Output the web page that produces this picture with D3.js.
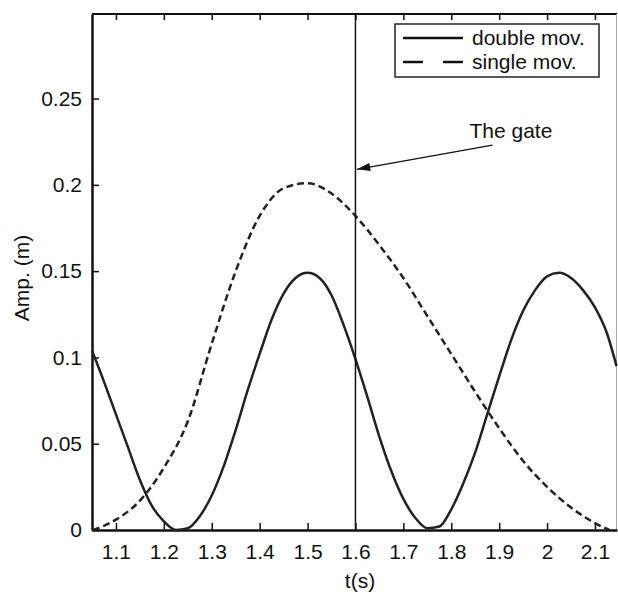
<!DOCTYPE html>
<html>
<head>
<meta charset="utf-8">
<script src="https://cdn.jsdelivr.net/npm/d3@7"></script>
<style>
  body { margin: 0; background: #fff; }
  text { font-family: "Liberation Sans", Arial, sans-serif; fill: #111; }
</style>
</head>
<body>
<div id="app"></div>
<script>
'use strict'

// Values
const doubleT = [1.050, 1.075, 1.100, 1.125, 1.150, 1.175, 1.200, 1.225, 1.250, 1.275,
                 1.300, 1.325, 1.350, 1.375, 1.400, 1.425, 1.450, 1.475, 1.500, 1.525,
                 1.550, 1.575, 1.600, 1.625, 1.650, 1.675, 1.700, 1.725, 1.750, 1.775,
                 1.800, 1.825, 1.850, 1.875, 1.900, 1.925, 1.950, 1.975, 2.000, 2.025,
                 2.050, 2.075, 2.100, 2.125, 2.145];
const doubleAmp = [0.104, 0.086, 0.067, 0.048, 0.029, 0.014, 0.005, 0.000, 0.001, 0.008,
                   0.020, 0.037, 0.058, 0.081, 0.102, 0.122, 0.137, 0.146, 0.149, 0.146,
                   0.136, 0.119, 0.099, 0.077, 0.054, 0.034, 0.018, 0.007, 0.001, 0.002,
                   0.012, 0.027, 0.045, 0.067, 0.089, 0.110, 0.127, 0.139, 0.147, 0.149,
                   0.146, 0.139, 0.129, 0.114, 0.095];

const singleT = [1.052, 1.100, 1.150, 1.200, 1.250, 1.300, 1.350, 1.400, 1.450, 1.500,
                 1.550, 1.600, 1.650, 1.700, 1.750, 1.800, 1.850, 1.900, 1.950, 2.000,
                 2.050, 2.100, 2.130];
const singleAmp = [0.000, 0.006, 0.017, 0.036, 0.063, 0.108, 0.150, 0.182, 0.198, 0.201,
                   0.195, 0.182, 0.165, 0.146, 0.124, 0.102, 0.080, 0.059, 0.040, 0.025,
                   0.013, 0.004, 0.000];

const xTicks = [1.1, 1.2, 1.3, 1.4, 1.5, 1.6, 1.7, 1.8, 1.9, 2.0, 2.1];
const yTicks = [0, 0.05, 0.1, 0.15, 0.2, 0.25];
const seriesNames = ['double mov.', 'single mov.'];

const gateT = 1.6;
const gateLabel = 'The gate';
const arrowFrom = [1.886, 0.223];
const arrowTo = [1.603, 0.209];

const width = 618;
const height = 592;
const margin = {left: 92, right: 1, top: 14, bottom: 62};
const fontSize = 21;

let x = d3.scaleLinear().domain([1.05, 2.146]).range([margin.left, width - margin.right]);
let y = d3.scaleLinear().domain([0, 0.299]).range([height - margin.bottom, margin.top]);

let svg = (
  d3.select('#app')
    .append('svg')
    .attr('width', width)
    .attr('height', height));

let defs = svg.append('defs');
(defs.append('marker')
    .attr('id', 'arrow')
    .attr('viewBox', '0 0 10 6')
    .attr('refX', 10)
    .attr('refY', 3)
    .attr('markerWidth', 14)
    .attr('markerHeight', 8)
    .attr('markerUnits', 'userSpaceOnUse')
    .attr('orient', 'auto')
  .append('path')
    .attr('d', 'M0,0 L10,3 L0,6 Z')
    .attr('fill', '#111'));

let x0 = x.range()[0], x1 = x.range()[1];
let y0 = y.range()[0], y1 = y.range()[1];

// Draw frame: top and right sides
(svg.append('line')
    .attr('x1', x0).attr('x2', x1)
    .attr('y1', y1).attr('y2', y1)
    .attr('stroke', '#111').attr('stroke-width', 2));
(svg.append('line')
    .attr('x1', x1 - 0.5).attr('x2', x1 - 0.5)
    .attr('y1', y1).attr('y2', y0)
    .attr('stroke', '#aaa').attr('stroke-width', 1));

// Draw axes with inward ticks
let xAxis = (svg.append('g')
    .attr('transform', `translate(0,${y0})`)
    .call(d3.axisBottom(x).tickValues(xTicks).tickSizeInner(-7).tickSizeOuter(0)
      .tickFormat(d3.format('~g'))));
let yAxis = (svg.append('g')
    .attr('transform', `translate(${x0},0)`)
    .call(d3.axisLeft(y).tickValues(yTicks).tickSizeInner(-7).tickSizeOuter(0)
      .tickFormat(d3.format('~g'))));
let topAxis = (svg.append('g')
    .attr('transform', `translate(0,${y1})`)
    .call(d3.axisTop(x).tickValues(xTicks).tickSizeInner(-6).tickSizeOuter(0)
      .tickFormat('')));
topAxis.select('.domain').remove();
topAxis.selectAll('.tick line').attr('stroke', '#111').attr('stroke-width', 1.5);

for (let ax of [xAxis, yAxis]) {
  ax.select('.domain').attr('stroke', '#111').attr('stroke-width', 2.5);
  ax.selectAll('.tick line').attr('stroke', '#111').attr('stroke-width', 1.5);
  ax.selectAll('.tick text')
    .attr('font-family', '"Liberation Sans", Arial, sans-serif')
    .attr('font-size', fontSize)
    .attr('fill', '#111');
}
xAxis.selectAll('.tick text').attr('y', 14);
yAxis.selectAll('.tick text').attr('x', -10);

// Draw axis titles
(svg.append('text')
    .attr('x', 360).attr('y', 588)
    .attr('text-anchor', 'middle')
    .attr('font-size', fontSize)
    .text('t(s)'));
(svg.append('text')
    .attr('transform', 'translate(29,278) rotate(-90)')
    .attr('text-anchor', 'middle')
    .attr('font-size', fontSize)
    .text('Amp. (m)'));

// Draw curves
let line = d3.line()
  .x((d) => x(d[0]))
  .y((d) => y(d[1]))
  .curve(d3.curveMonotoneX);

let doubleData = doubleT.map((t, i) => [t, doubleAmp[i]]);
let singleData = singleT.map((t, i) => [t, singleAmp[i]]);

(svg.append('path')
    .datum(singleData)
    .attr('d', line)
    .attr('fill', 'none')
    .attr('stroke', '#222')
    .attr('stroke-width', 2.5)
    .attr('stroke-dasharray', '7,4'));
(svg.append('path')
    .datum(doubleData)
    .attr('d', line)
    .attr('fill', 'none')
    .attr('stroke', '#222')
    .attr('stroke-width', 2.5));

// Draw gate
(svg.append('line')
    .attr('x1', x(gateT)).attr('x2', x(gateT))
    .attr('y1', y0).attr('y2', y1)
    .attr('stroke', '#111').attr('stroke-width', 1.5));
(svg.append('line')
    .attr('x1', x(arrowFrom[0])).attr('y1', y(arrowFrom[1]))
    .attr('x2', x(arrowTo[0])).attr('y2', y(arrowTo[1]))
    .attr('stroke', '#111').attr('stroke-width', 1.3)
    .attr('marker-end', 'url(#arrow)'));
(svg.append('text')
    .attr('x', x(arrowFrom[0]) - 23)
    .attr('y', y(arrowFrom[1]) - 7)
    .attr('font-size', fontSize)
    .text(gateLabel));

// Draw legend
let legend = svg.append('g').attr('transform', 'translate(395,24)');
(legend.append('rect')
    .attr('width', 204).attr('height', 53)
    .attr('fill', '#fff')
    .attr('stroke', '#222').attr('stroke-width', 1.5));
(legend.selectAll('line.key')
    .data(seriesNames)
  .enter()
    .append('line')
      .attr('class', 'key')
      .attr('x1', 8).attr('x2', 68)
      .attr('y1', (d, i) => 14 + i * 24)
      .attr('y2', (d, i) => 14 + i * 24)
      .attr('stroke', '#111')
      .attr('stroke-width', 2.5)
      .attr('stroke-dasharray', (d, i) => i == 0 ? null : '20,20'));
(legend.selectAll('text.key')
    .data(seriesNames)
  .enter()
    .append('text')
      .attr('class', 'key')
      .attr('x', 77)
      .attr('y', (d, i) => 14 + i * 24)
      .attr('dy', '0.35em')
      .attr('font-size', fontSize)
      .text((d) => d));
</script>
</body>
</html>
